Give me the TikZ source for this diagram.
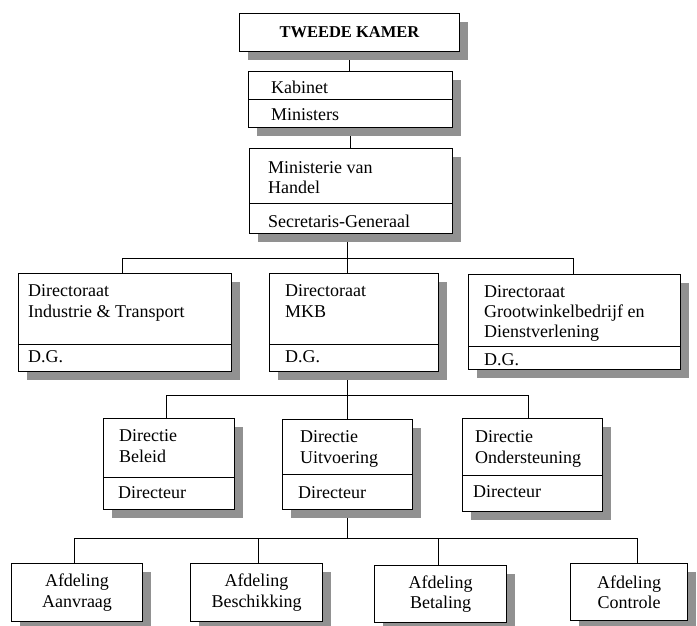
\documentclass[tikz,border=0pt]{standalone}
\usepackage{fontspec}
\setmainfont{Liberation Serif}
\usepackage{tikz}
\usetikzlibrary{shadows, backgrounds}
\definecolor{shadowgray}{RGB}{145,145,145}
\tikzstyle{part} = [rectangle, draw=black, line width=1pt, fill=white, anchor=north west, inner sep=0pt, drop shadow={shadow xshift=8pt, shadow yshift=-8pt, fill=shadowgray, opacity=1}]
\tikzstyle{txt} = [anchor=base west, inner sep=0pt, align=left, font=\fontsize{18}{20.5}\selectfont]
\tikzstyle{ctxt} = [anchor=center, inner sep=0pt, align=center, font=\fontsize{18}{20.5}\selectfont]
\tikzstyle{conn} = [line width=1pt]

\begin{document}
\begin{tikzpicture}[x=1pt, y=-1pt]
\useasboundingbox (0,0) rectangle (697,625);

% Boxes
\node (tk) [part, minimum width=220, minimum height=38] at (239,13) {};
\node (kabTop) [part, minimum width=204, minimum height=28] at (248,71) {};
\node (kabBot) [part, minimum width=204, minimum height=28] at (248,99) {};
\node (minTop) [part, minimum width=203, minimum height=55] at (249,148) {};
\node (minBot) [part, minimum width=203, minimum height=30] at (249,203) {};

\node (itTop) [part, minimum width=213, minimum height=71] at (18,273) {};
\node (itBot) [part, minimum width=213, minimum height=27] at (18,344) {};
\node (mkbTop) [part, minimum width=169, minimum height=71] at (269,273) {};
\node (mkbBot) [part, minimum width=169, minimum height=27] at (269,344) {};
\node (gwTop) [part, minimum width=212, minimum height=72] at (468,274) {};
\node (gwBot) [part, minimum width=212, minimum height=23] at (468,346) {};

\node (beTop) [part, minimum width=131, minimum height=59] at (103,418) {};
\node (beBot) [part, minimum width=131, minimum height=32] at (103,477) {};
\node (uvTop) [part, minimum width=130, minimum height=55] at (282,419) {};
\node (uvBot) [part, minimum width=130, minimum height=35] at (282,474) {};
\node (osTop) [part, minimum width=140, minimum height=57] at (462,418) {};
\node (osBot) [part, minimum width=140, minimum height=36] at (462,475) {};

\node (aaBox) [part, minimum width=131, minimum height=58] at (11,563) {};
\node (bsBox) [part, minimum width=132, minimum height=58] at (190,563) {};
\node (btBox) [part, minimum width=132, minimum height=57] at (374,565) {};
\node (coBox) [part, minimum width=117, minimum height=57] at (570,563) {};

% Texts (base = last line)
\node (tkTxt) [ctxt, font=\fontsize{16.5}{20}\selectfont] at (tk.center) {\textbf{TWEEDE KAMER}};
\node (kabTxt) [txt] at ([shift={(23,22)}]kabTop.north west) {Kabinet};
\node (kabTitle) [txt] at ([shift={(23,21)}]kabBot.north west) {Ministers};
\node (minTxt) [txt] at ([shift={(19,45.5)}]minTop.north west) {Ministerie van\\Handel};
\node (minTitle) [txt] at ([shift={(19,24)}]minBot.north west) {Secretaris-Generaal};

\node (itTxt) [txt] at ([shift={(10,44)}]itTop.north west) {Directoraat\\Industrie \& Transport};
\node (itTitle) [txt] at ([shift={(10,18)}]itBot.north west) {D.G.};
\node (mkbTxt) [txt] at ([shift={(16,44)}]mkbTop.north west) {Directoraat\\MKB};
\node (mkbTitle) [txt] at ([shift={(16,18)}]mkbBot.north west) {D.G.};
\node (gwTxt) [txt, font=\fontsize{18}{20}\selectfont] at ([shift={(16,63)}]gwTop.north west) {Directoraat\\Grootwinkelbedrijf en\\Dienstverlening};
\node (gwTitle) [txt] at ([shift={(16,19)}]gwBot.north west) {D.G.};

\node (beTxt) [txt] at ([shift={(16,44)}]beTop.north west) {Directie\\Beleid};
\node (beTitle) [txt] at ([shift={(15,21)}]beBot.north west) {Directeur};
\node (uvTxt) [txt] at ([shift={(18,44)}]uvTop.north west) {Directie\\Uitvoering};
\node (uvTitle) [txt] at ([shift={(16,24)}]uvBot.north west) {Directeur};
\node (osTxt) [txt] at ([shift={(13,45)}]osTop.north west) {Directie\\Ondersteuning};
\node (osTitle) [txt] at ([shift={(11,22)}]osBot.north west) {Directeur};

\node (aaTxt) [ctxt] at (aaBox.center) {Afdeling\\Aanvraag};
\node (bsTxt) [ctxt] at (bsBox.center) {Afdeling\\Beschikking};
\node (btTxt) [ctxt] at (btBox.center) {Afdeling\\Betaling};
\node (coTxt) [ctxt] at (coBox.center) {Afdeling\\Controle};

% Connectors
\coordinate (busIt) at (122,258);
\coordinate (busMkb) at (347,258);
\coordinate (busGw) at (573,258);
\coordinate (busBe) at (166,395);
\coordinate (busUv) at (347,395);
\coordinate (busOs) at (528,395);
\coordinate (busAa) at (74,538);
\coordinate (busBs) at (258,538);
\coordinate (busMid) at (347,538);
\coordinate (busBt) at (438,538);
\coordinate (busCo) at (637,538);

\begin{scope}[on background layer]
\draw [conn] (tk.south) -- (tk.south |- kabTop.north);
\draw [conn] (kabBot.south) -- (kabBot.south |- minTop.north);
\draw [conn] (busMkb |- minBot.south) -- (busMkb |- mkbTop.north);
\draw [conn] (busIt |- itTop.north) -- (busIt) -- (busGw) -- (busGw |- gwTop.north);
\draw [conn] (busUv |- mkbBot.south) -- (busUv |- uvTop.north);
\draw [conn] (busBe |- beTop.north) -- (busBe) -- (busOs) -- (busOs |- osTop.north);
\draw [conn] (busMid |- uvBot.south) -- (busMid);
\draw [conn] (busAa |- aaBox.north) -- (busAa) -- (busCo) -- (busCo |- coBox.north);
\draw [conn] (busBs) -- (busBs |- bsBox.north);
\draw [conn] (busBt) -- (busBt |- btBox.north);
\end{scope}

\end{tikzpicture}
\end{document}
